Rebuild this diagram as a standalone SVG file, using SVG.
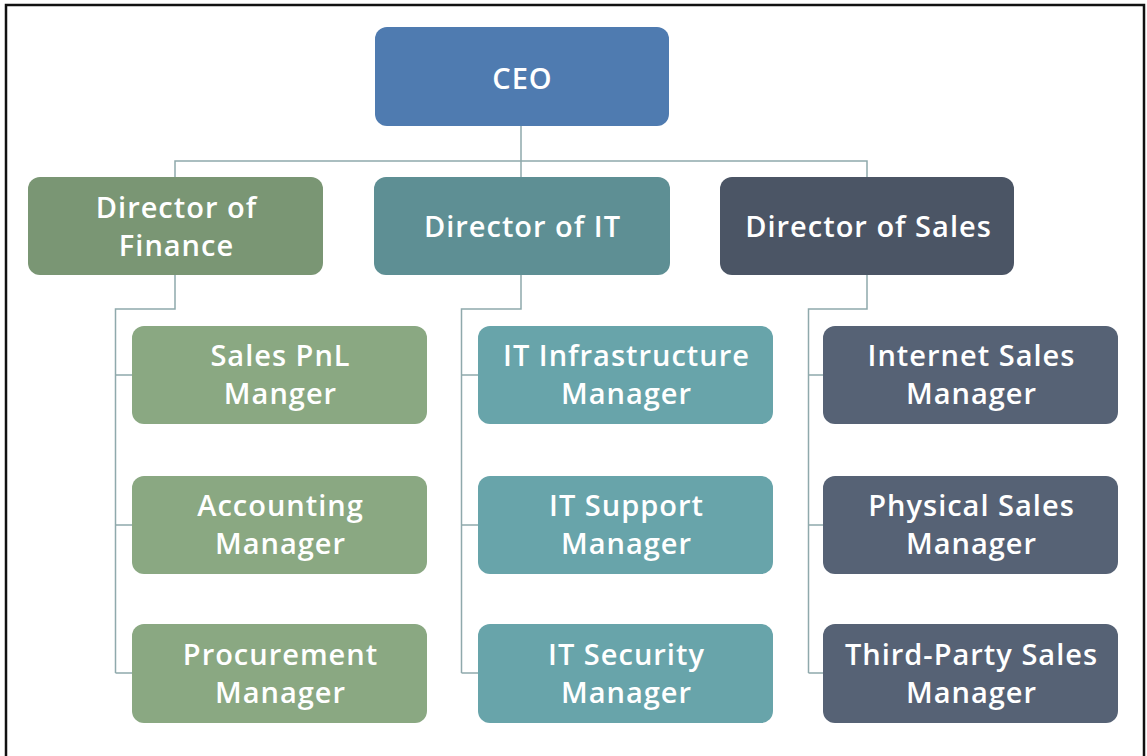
<svg xmlns="http://www.w3.org/2000/svg" width="1147" height="756" viewBox="0 0 1147 756">
<style>
.t{font-family:"Open Sans","Liberation Sans",sans-serif;font-size:29px;font-weight:600;letter-spacing:1px;fill:#ffffff;text-anchor:middle}
.c{fill:none;stroke:#8fa9ac;stroke-width:1.5}
.ceo{fill:#4f7bb0}
.df{fill:#7a9674}
.mf{fill:#8aa882}
.di{fill:#5e8f94}
.mi{fill:#68a4aa}
.ds{fill:#4b5565}
.ms{fill:#566275}
</style>
<rect width="1147" height="756" fill="#ffffff"/>
<path d="M6,756 V5 H1144 V756" fill="none" stroke="#111111" stroke-width="2.5"/>
<g id="connectors" class="c">
<path d="M521,125 V161 M175,177 V161 H867 V177 M521,161 V177"/>
<path d="M175,275 V309 H115.5 V673 M115.5,375 H132 M115.5,525 H132 M115.5,673 H132"/>
<path d="M521,275 V309 H461.5 V673 M461.5,375 H478 M461.5,525 H478 M461.5,673 H478"/>
<path d="M867,275 V309 H808.5 V673 M808.5,375 H823 M808.5,525 H823 M808.5,673 H823"/>
</g>
<g id="ceo"><rect class="ceo" x="375" y="27" width="294" height="99" rx="12"/><text class="t" x="522.5" y="89">CEO</text></g>
<g id="dir-finance"><rect class="df" x="28" y="177" width="295" height="98" rx="12"/><text class="t" x="176.5" y="218">Director of</text><text class="t" x="176.5" y="256">Finance</text></g>
<g id="dir-it"><rect class="di" x="374" y="177" width="296" height="98" rx="12"/><text class="t" x="522.5" y="237">Director of IT</text></g>
<g id="dir-sales"><rect class="ds" x="720" y="177" width="294" height="98" rx="12"/><text class="t" x="868.5" y="237">Director of Sales</text></g>
<g id="sales-pnl"><rect class="mf" x="132" y="326" width="295" height="98" rx="12"/><text class="t" x="280.5" y="366">Sales PnL</text><text class="t" x="280.5" y="404">Manger</text></g>
<g id="accounting"><rect class="mf" x="132" y="476" width="295" height="98" rx="12"/><text class="t" x="280.5" y="516">Accounting</text><text class="t" x="280.5" y="554">Manager</text></g>
<g id="procurement"><rect class="mf" x="132" y="624" width="295" height="99" rx="12"/><text class="t" x="280.5" y="665">Procurement</text><text class="t" x="280.5" y="703">Manager</text></g>
<g id="it-infra"><rect class="mi" x="478" y="326" width="295" height="98" rx="12"/><text class="t" x="626.5" y="366">IT Infrastructure</text><text class="t" x="626.5" y="404">Manager</text></g>
<g id="it-support"><rect class="mi" x="478" y="476" width="295" height="98" rx="12"/><text class="t" x="626.5" y="516">IT Support</text><text class="t" x="626.5" y="554">Manager</text></g>
<g id="it-security"><rect class="mi" x="478" y="624" width="295" height="99" rx="12"/><text class="t" x="626.5" y="665">IT Security</text><text class="t" x="626.5" y="703">Manager</text></g>
<g id="internet-sales"><rect class="ms" x="823" y="326" width="295" height="98" rx="12"/><text class="t" x="971.5" y="366">Internet Sales</text><text class="t" x="971.5" y="404">Manager</text></g>
<g id="physical-sales"><rect class="ms" x="823" y="476" width="295" height="98" rx="12"/><text class="t" x="971.5" y="516">Physical Sales</text><text class="t" x="971.5" y="554">Manager</text></g>
<g id="third-party-sales"><rect class="ms" x="823" y="624" width="295" height="99" rx="12"/><text class="t" x="971.5" y="665">Third-Party Sales</text><text class="t" x="971.5" y="703">Manager</text></g>
</svg>
